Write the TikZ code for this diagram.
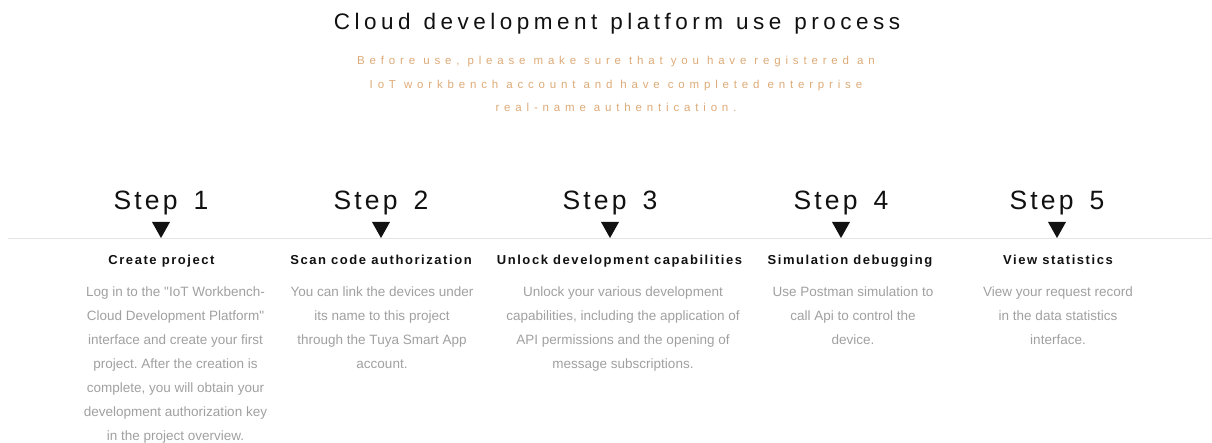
\documentclass[tikz,border=0pt]{standalone}
\usepackage{fontspec}
\setmainfont{Liberation Sans}
\definecolor{tan}{HTML}{DDAA77}
\definecolor{bodygray}{HTML}{A0A0A0}
\definecolor{rulegray}{HTML}{E4E4E4}
\definecolor{ink}{HTML}{111111}
\frenchspacing
\newcommand\mytitlefont{\fontsize{22.5}{26}\selectfont\addfontfeatures{LetterSpace=20}\spaceskip=13pt\relax}
\newcommand\mystepfont{\fontsize{26.5}{30}\selectfont\addfontfeatures{LetterSpace=12}\spaceskip=16pt\relax}
\begin{document}
\begin{tikzpicture}[x=1pt,y=-1pt,
  titlestyle/.style={inner sep=0pt, anchor=base, text=ink, font=\mytitlefont},
  substyle/.style={inner sep=0pt, anchor=north, align=center, text=tan, font=\fontsize{11.5}{23.5}\selectfont\addfontfeatures{LetterSpace=42}},
  steplabel/.style={inner sep=0pt, anchor=base, text=ink, font=\mystepfont},
  headstyle/.style={inner sep=0pt, anchor=base, text=ink, font=\bfseries\fontsize{13}{16}\selectfont\addfontfeatures{LetterSpace=12}},
  bodystyle/.style={inner sep=0pt, anchor=north, align=center, text=bodygray, font=\fontsize{13.5}{24}\selectfont},
  pointer/.style={fill=ink}
]
\useasboundingbox (0,0) rectangle (1212,443);

\node[titlestyle] (title) at (617,30) {Cloud development platform use process};
\node[substyle] (sub) at (616,56) {Before use, please make sure that you have registered an\\IoT workbench account and have completed enterprise\\real-name authentication.};

\coordinate (ruleL) at (8,238.5);
\coordinate (ruleR) at (1212,238.5);
\draw[rulegray, line width=0.8pt] (ruleL) -- (ruleR);

% steps
\foreach \n/\x in {1/161,2/381,3/610,4/841,5/1057}{
  \node[steplabel] (step\n) at (\x,210) {Step \n};
  \fill[pointer] (\x-9,222) -- (\x+9,222) -- (\x,238) -- cycle;
}

\node[headstyle] (h1) at (161.5,265) {Create project};
\node[headstyle] (h2) at (381,265) {Scan code authorization};
\node[headstyle] (h3) at (619.5,265) {Unlock development capabilities};
\node[headstyle] (h4) at (850,265) {Simulation debugging};
\node[headstyle] (h5) at (1058,265) {View statistics};

\node[bodystyle] (b1) at (175.5,287) {Log in to the \textquotedbl IoT Workbench-\\Cloud Development Platform\textquotedbl\\interface and create your first\\project. After the creation is\\complete, you will obtain your\\development authorization key\\in the project overview.};
\node[bodystyle] (b2) at (382,287) {You can link the devices under\\its name to this project\\through the Tuya Smart App\\account.};
\node[bodystyle] (b3) at (623,287) {Unlock your various development\\capabilities, including the application of\\API permissions and the opening of\\message subscriptions.};
\node[bodystyle] (b4) at (853,287) {Use Postman simulation to\\call Api to control the\\device.};
\node[bodystyle] (b5) at (1058,287) {View your request record\\in the data statistics\\interface.};
\end{tikzpicture}
\end{document}
